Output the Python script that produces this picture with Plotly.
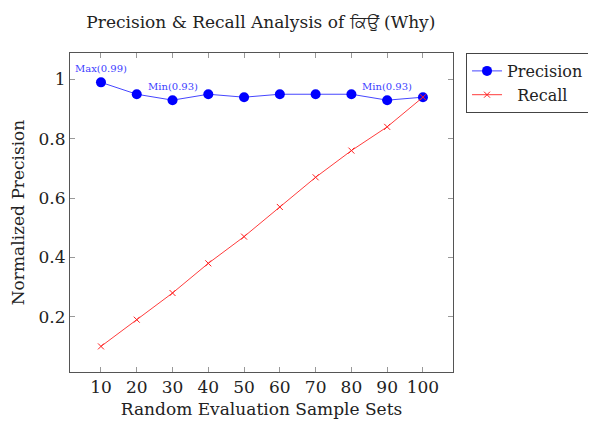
import plotly.graph_objects as go

sample_sets = [10, 20, 30, 40, 50, 60, 70, 80, 90, 100]
precision = [0.99, 0.95, 0.93, 0.95, 0.94, 0.95, 0.95, 0.95, 0.93, 0.94]
recall = [0.10, 0.19, 0.28, 0.38, 0.47, 0.57, 0.67, 0.76, 0.84, 0.94]
y_ticks = [0.2, 0.4, 0.6, 0.8, 1.0]
y_tick_labels = ["0.2", "0.4", "0.6", "0.8", "1"]
notes = [(10, 0.99, "Max(0.99)"), (30, 0.93, "Min(0.93)"), (90, 0.93, "Min(0.93)")]

FONT = "DejaVu Serif"

fig = go.Figure()
fig.add_trace(go.Scatter(
    x=sample_sets, y=precision, name="Precision", mode="lines+markers",
    line=dict(color="rgb(70,70,255)", width=1),
    marker=dict(color="#0000ff", size=10, symbol="circle"),
))
fig.add_trace(go.Scatter(
    x=sample_sets, y=recall, name="  Recall", mode="lines+markers",
    line=dict(color="rgb(255,60,60)", width=1),
    marker=dict(color="#ff2020", size=6, symbol="x-thin", line=dict(color="#ff2020", width=1)),
))

for x, y, t in notes:
    fig.add_annotation(x=x, y=y, text=t, showarrow=False, yshift=14,
                       font=dict(family=FONT, size=10, color="#4040ff"))

axis_common = dict(
    showline=True, linecolor="#555555", linewidth=1, mirror="ticks",
    ticks="inside", ticklen=5, tickcolor="#999999", showgrid=False, zeroline=False,
    automargin=False,
    tickfont=dict(family=FONT, size=17, color="#222222"),
)
fig.update_xaxes(range=[1.34, 108.4], tickvals=sample_sets,
                 title=dict(text="Random Evaluation Sample Sets", font=dict(family=FONT, size=17, color="#222222"), standoff=6),
                 **axis_common)
fig.update_yaxes(range=[0.0137, 1.089], tickvals=y_ticks, ticktext=y_tick_labels,
                 title=dict(text="Normalized Precision", font=dict(family=FONT, size=17, color="#222222"), standoff=12),
                 **axis_common)

fig.update_layout(
    width=588, height=415,
    margin=dict(l=62, r=143, t=45, b=51, autoexpand=False),
    paper_bgcolor="white", plot_bgcolor="white",
    title=dict(text="Precision & Recall Analysis of ਕਿਉਂ (Why)", x=0.43, xanchor="center",
               y=0.966, yanchor="middle", font=dict(family=FONT, size=17, color="#222222")),
    legend=dict(x=1.034, y=1.0, xanchor="left", yanchor="top",
                bordercolor="#444444", borderwidth=1, bgcolor="white",
                font=dict(family=FONT, size=16, color="#222222"), itemwidth=30,
                tracegroupgap=0),
    showlegend=True,
)

fig.write_html("out.html")
